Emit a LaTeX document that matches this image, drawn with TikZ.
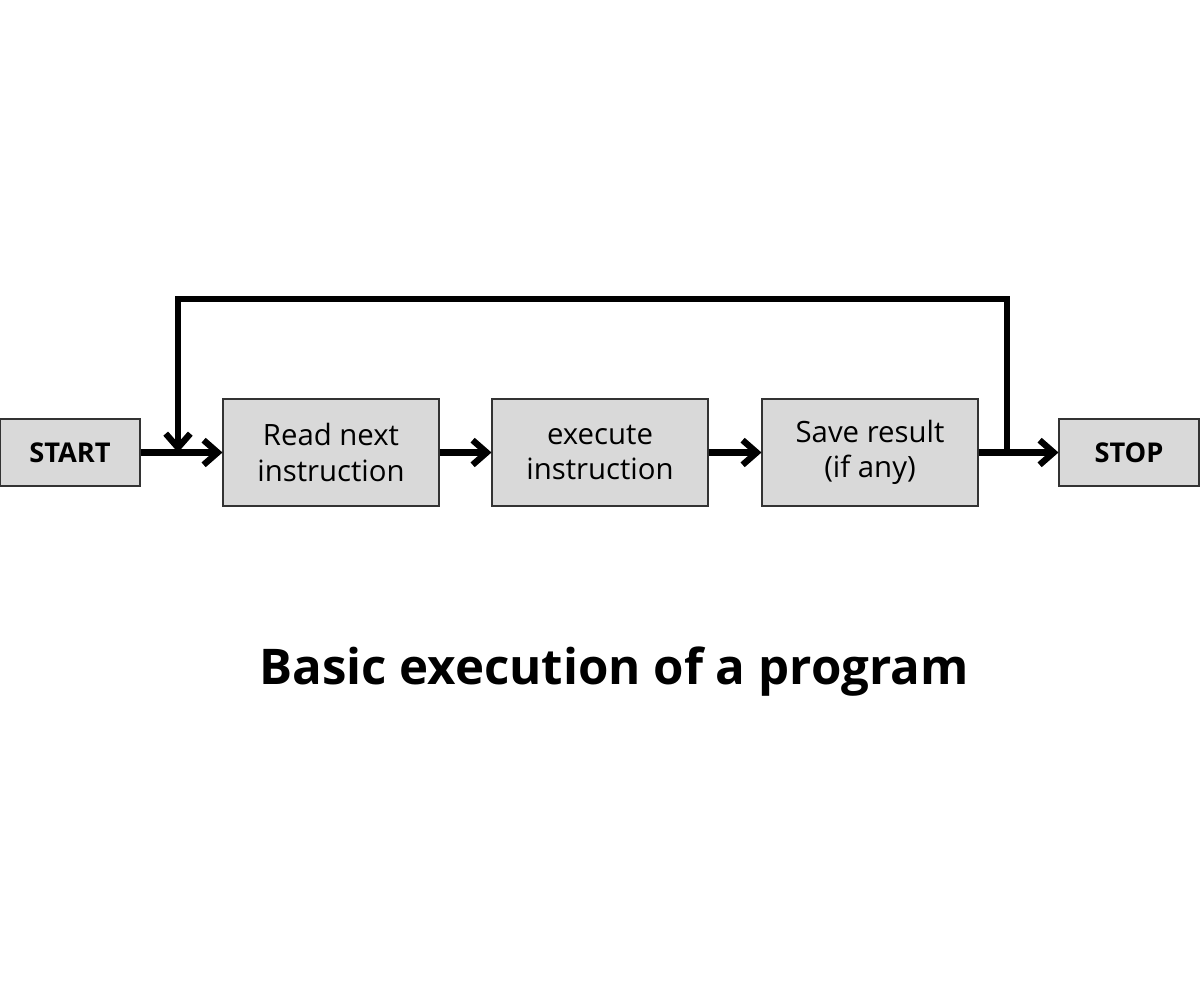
\documentclass[tikz,border=0pt]{standalone}
\usepackage{fontspec}
\setmainfont{Open Sans}
\usetikzlibrary{arrows.meta}
\begin{document}
\begin{tikzpicture}[x=0.02cm,y=-0.02cm,
  box/.style={draw=black!80,fill=black!15,line width=0.6pt,inner sep=0pt,align=center,font=\fontsize{16.7}{20}\selectfont},
  conn/.style={line width=3.6pt,-{Straight Barb[length=8pt,width=14pt,line width=3.6pt]}},
  line/.style={line width=3.6pt}]
\useasboundingbox (0,0) rectangle (1200,1000);
\node[box,minimum width=140*0.02cm,minimum height=67*0.02cm,font=\bfseries\fontsize{15.5}{18}\selectfont] (start) at (70,452.5) {START};
\node[box,minimum width=216*0.02cm,minimum height=107*0.02cm] (read) at (331,452.5) {Read next\\instruction};
\node[box,minimum width=216*0.02cm,minimum height=107*0.02cm] (exec) at (600,452.5) {execute\\instruction};
\node[box,minimum width=216*0.02cm,minimum height=107*0.02cm] (save) at (870,452.5) {Save result\\(if any)};
\node[box,minimum width=140*0.02cm,minimum height=67*0.02cm,font=\bfseries\fontsize{15.5}{18}\selectfont] (stop) at (1129,452.5) {STOP};
\coordinate (j1) at (178,452.5);
\coordinate (j2) at (1007,452.5);
\draw[conn] (start.east) -- (read.west);
\draw[conn] (read.east) -- (exec.west);
\draw[conn] (exec.east) -- (save.west);
\draw[conn] (save.east) -- (stop.west);
\draw[line,-{Straight Barb[length=8pt,width=14pt,line width=3.6pt]}] (j2) -- (1007,299) -- (178,299) -- (j1);
\node[font=\bfseries\fontsize{28}{33}\selectfont] (title) at (614,672) {Basic execution of a program};
\end{tikzpicture}
\end{document}
